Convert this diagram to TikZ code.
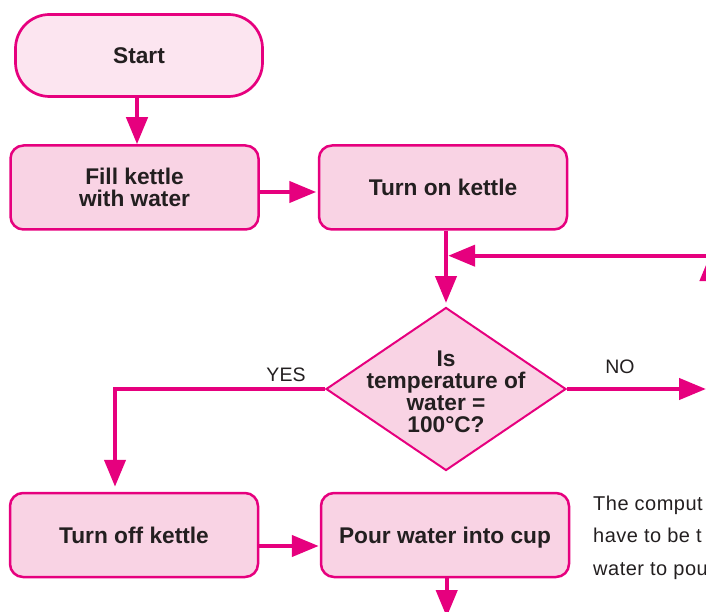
\documentclass[tikz,border=0pt]{standalone}
\usepackage{fontspec}
\setmainfont{Liberation Sans}
\usetikzlibrary{arrows.meta,shapes.geometric}
\definecolor{flowmag}{HTML}{E6007E}
\definecolor{startfill}{HTML}{FCE5F0}
\definecolor{boxfill}{HTML}{F9D3E4}
\definecolor{ink}{HTML}{231F20}

\begin{document}
\begin{tikzpicture}[x=1pt,y=-1pt,
  conn/.style={draw=flowmag, line width=4.3pt, -{Triangle[width=21pt,length=27pt]}},
  boxtext/.style={text=ink, font=\fontsize{22.7}{22}\selectfont\bfseries, align=center},
  startbox/.style={boxtext, draw=flowmag, fill=startfill, line width=2.7pt,
    rounded corners=34pt, minimum width=247pt, minimum height=82pt, inner sep=0pt},
  procbox/.style={boxtext, draw=flowmag, fill=boxfill, line width=2.5pt, text depth=0pt,
    rounded corners=13pt, minimum width=248pt, minimum height=84pt, inner sep=0pt},
  decision/.style={diamond, draw=flowmag, fill=boxfill, line width=2pt,
    minimum width=240pt, minimum height=163pt, inner sep=0pt},
  branch/.style={text=ink, font=\fontsize{19.5}{19.5}\selectfont, inner sep=0pt},
  note/.style={text=ink, font=\fontsize{20}{32.5}\selectfont\addfontfeature{LetterSpace=2.5},
    align=left, inner sep=0pt},
]
\useasboundingbox (0,0) rectangle (706,612);
\clip (0,0) rectangle (706,612);

% process steps
\node[startbox] (start) at (139,55.5) {Start};
\node[procbox] (fill) at (134.5,187.5) {Fill kettle\\with water};
\node[procbox] (turnon) at (443,187.5) {Turn on kettle};
\node[decision, label={[boxtext, yshift=-3pt, name=qtext]center:{Is\\temperature of\\water =\\100°C?}}]
  (check) at (446,389) {};
\node[procbox] (turnoff) at (134,535) {Turn off kettle};
\node[procbox] (pour) at (445,535) {Pour water into cup};

% branch labels and side note
\node[branch] (yes) at (286,374.5) {YES};
\node[branch] (no) at (620,367) {NO};
\node[note, anchor=base west] (sidenote) at (593,575) {The comput\\have to be t\\water to pou};

% free ends of connectors running off the page
\coordinate (loopin) at (730,255.7);
\coordinate (nohead) at (706,389);
\coordinate (yescorner) at (115,389);
\coordinate (pourout) at (446.7,617);
\coordinate (upfoot) at (710.5,320);
\coordinate (uptip) at (710.5,254);

% connectors
\draw[conn] ([xshift=-2pt]start.south) -- ([xshift=-2pt]start.south |- fill.north);
\draw[conn, shorten >=1.5pt] ([yshift=-4.5pt]fill.east) -- ([yshift=-4.5pt]fill.east -| turnon.west);
\draw[conn, shorten >=3.5pt] (turnon.south -| check.north) -- (check.north);
\draw[conn, shorten >=2.2pt] (loopin) -- (loopin -| check.north);
\draw[conn] (check.east) -- (nohead);
\draw[conn, shorten >=5pt] (check.west) -- (yescorner) -- (yescorner |- turnoff.north);
\draw[conn, shorten >=1pt] ([yshift=-11pt]turnoff.east) -- ([yshift=-11pt]turnoff.east -| pour.west);
\draw[conn] ([xshift=1.7pt]pour.south) -- (pourout);
\draw[conn] (upfoot) -- (uptip);
\end{tikzpicture}
\end{document}
